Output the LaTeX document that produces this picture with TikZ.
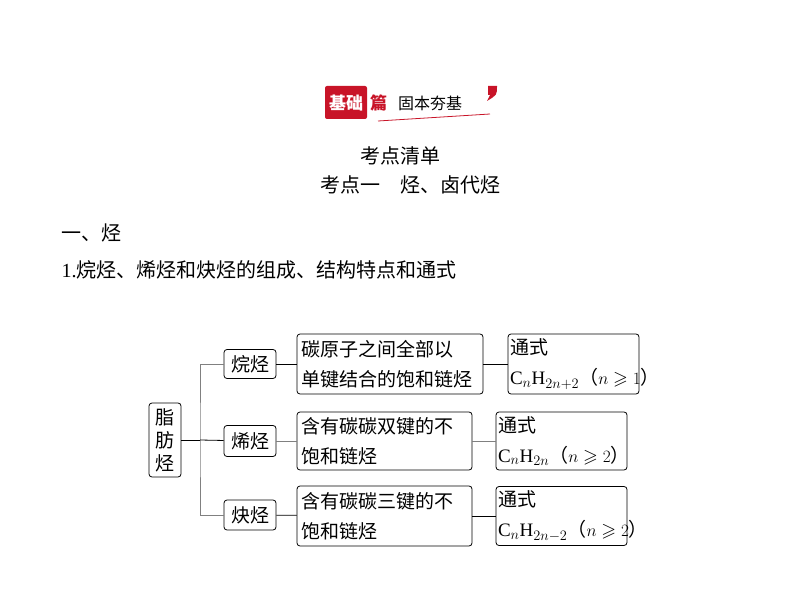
\documentclass[tikz,border=0pt]{standalone}
\usepackage{amssymb}
\usepackage{fontspec}
\setmainfont{Liberation Serif}
\newfontfamily\cjk{Noto Sans CJK SC}
\usetikzlibrary{positioning}
\definecolor{bannerred}{RGB}{200,20,40}
\tikzset{
  box/.style={draw,rounded corners=3pt,line width=0.8pt,inner sep=0pt,align=left},
  link/.style={line width=0.8pt},
  glink/.style={line width=0.8pt,gray},
  boxtext/.style={font=\fontsize{19}{30}\selectfont\cjk}
}
\newcommand{\formula}[2]{\mbox{\rmfamily C$_n$H$_{#1}$\cjk（\rmfamily$n\geqslant #2$\cjk）}}
\begin{document}
\begin{tikzpicture}[x=1pt,y=-1pt]
  \useasboundingbox (0,0) rectangle (794,593);

  % banner
  \fill[bannerred,rounded corners=2pt] (325,86) rectangle (367,119);
  \node[white,font=\fontsize{17}{17}\selectfont\cjk\bfseries] (basic) at (346,103) {基础};
  \node[bannerred,font=\fontsize{17}{17}\selectfont\cjk\bfseries,right=0pt of basic] (part) {篇};
  \node[font=\fontsize{16}{16}\selectfont\cjk,right=4pt of part] (motto) {固本夯基};
  \draw[bannerred,line width=0.8pt] (378,121) -- (490,114);
  \fill[bannerred] (488,86) -- (497,86) .. controls (497,95) .. (487,101) -- (490,95) -- (488,95) -- cycle;

  % headings
  \node[font=\fontsize{20}{20}\selectfont\cjk] (list) at (400,156) {考点清单};
  \node[font=\fontsize{20}{20}\selectfont\cjk] (topic) at (410,185) {考点一\quad 烃、卤代烃};
  \node[font=\fontsize{20}{20}\selectfont\cjk,anchor=west] (sec) at (58,233) {一、烃};
  \node[font=\fontsize{20}{20}\selectfont\cjk,anchor=west] (sub) at (58,270) {\rmfamily 1.\cjk 烷烃、烯烃和炔烃的组成、结构特点和通式};

  % root
  \node[box,minimum width=32pt,minimum height=74pt,align=center,font=\fontsize{19}{23}\selectfont\cjk] (root) at (165,440) {脂\\肪\\烃};

  % classes
  \node[box,boxtext,minimum width=52pt,minimum height=29pt] (alkane) at (250,364) {烷烃};
  \node[box,boxtext,minimum width=52pt,minimum height=31pt] (alkene) at (250,441) {烯烃};
  \node[box,boxtext,minimum width=52pt,minimum height=30pt] (alkyne) at (250,515) {炔烃};

  % descriptions
  \node[box,boxtext,minimum width=186pt,minimum height=60pt,text width=178pt] (dalkane) at (390,364) {碳原子之间全部以\\单键结合的饱和链烃};
  \node[box,boxtext,minimum width=175pt,minimum height=58pt,text width=167pt] (dalkene) at (384.5,441) {含有碳碳双键的不\\饱和链烃};
  \node[box,boxtext,minimum width=175pt,minimum height=60pt,text width=167pt] (dalkyne) at (384.5,516) {含有碳碳三键的不\\饱和链烃};

  % formulas
  \node[box,boxtext,minimum width=131pt,minimum height=60pt,text width=127pt] (falkane) at (573.5,364) {通式\\\formula{2n+2}{1}};
  \node[box,boxtext,minimum width=131pt,minimum height=58pt,text width=127pt] (falkene) at (561.5,441) {通式\\\formula{2n}{2}};
  \node[box,boxtext,minimum width=131pt,minimum height=59pt,text width=127pt] (falkyne) at (561.5,516) {通式\\\formula{2n-2}{2}};

  % tree
  \coordinate (trunk) at (200,440);
  \draw[link] (root) -- (trunk);
  \draw[glink] (alkane.west) -| (trunk) |- (alkyne.west);
  \draw[link] (trunk) -- (alkene);
  \draw[link] (alkane) -- (dalkane);
  \draw[glink] (alkene) -- (dalkene);
  \draw[link] (alkyne) -- (dalkyne);
  \draw[link] (dalkane) -- (falkane);
  \draw[glink] (dalkene) -- (falkene);
  \draw[link] (dalkyne.east) -- (falkyne.west |- dalkyne.east);
\end{tikzpicture}
\end{document}
